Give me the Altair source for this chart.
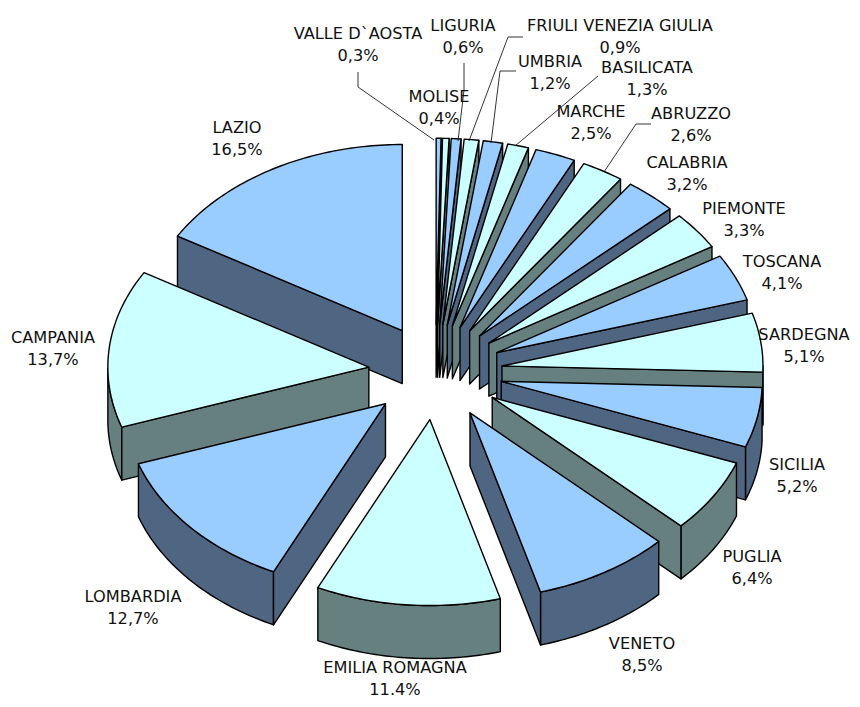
import math
import altair as alt
import pandas as pd

regions = ["VALLE D`AOSTA", "MOLISE", "LIGURIA", "FRIULI VENEZIA GIULIA", "UMBRIA", "BASILICATA",
           "MARCHE", "ABRUZZO", "CALABRIA", "PIEMONTE", "TOSCANA", "SARDEGNA", "SICILIA", "PUGLIA",
           "VENETO", "EMILIA ROMAGNA", "LOMBARDIA", "CAMPANIA", "LAZIO"]
shares = [0.3, 0.4, 0.6, 0.9, 1.2, 1.3, 2.5, 2.6, 3.2, 3.3, 4.1, 5.1, 5.2, 6.4, 8.5, 11.4, 12.7, 13.7, 16.5]
share_labels = ["0,3%", "0,4%", "0,6%", "0,9%", "1,2%", "1,3%", "2,5%", "2,6%", "3,2%", "3,3%", "4,1%",
                "5,1%", "5,2%", "6,4%", "8,5%", "11.4%", "12,7%", "13,7%", "16,5%"]

# layout (page pixels)
label_x = [358, 439, 463, 620, 550, 647, 591, 691, 687, 744, 782, 804, 797, 752, 642, 395, 133, 53, 237]
label_y = [34, 97, 26, 26, 62, 68, 112, 114, 163, 209, 262, 335, 465, 557, 644, 668, 597, 338, 128]
leaders = [
    [(358, 72), (358, 87), (434, 140)],
    [(464, 63), (464, 90), (458, 141)],
    [(523, 37), (508, 37), (469, 141)],
    [(516, 71), (500, 71), (491, 143)],
    [(598, 76), (515, 146)],
    [(651, 124), (636, 124), (604, 172)],
]
CX, CY, A, B, DEPTH, EXPLODE = 435.5, 372, 261, 186, 53, 67
TOP = ["#99CCFF", "#CCFFFF"]
SIDE = ["#4F6682", "#668080"]

total = sum(shares)
slices, cum = [], 0.0
for i, s in enumerate(shares):
    t0 = cum / total * 2 * math.pi
    cum += s
    t1 = cum / total * 2 * math.pi
    slices.append((i, t0, t1, (t0 + t1) / 2))


def feature(kind, coords, fill=None):
    if kind == "Polygon":
        coords = [list(map(list, coords)) + [list(coords[0])]]
    else:
        coords = list(map(list, coords))
    return {"type": "Feature", "geometry": {"type": kind, "coordinates": coords},
            "properties": {"fill": fill}}


faces = []
for i, t0, t1, m in sorted(slices, key=lambda r: -math.cos(r[3])):
    tx = CX + EXPLODE * math.sin(m)
    ty = CY - EXPLODE * B / A * math.cos(m)
    n = max(4, int((t1 - t0) * 60))
    arc = [(tx + A * math.sin(t0 + (t1 - t0) * k / n), ty - B * math.cos(t0 + (t1 - t0) * k / n))
           for k in range(n + 1)]
    side, top = SIDE[i % 2], TOP[i % 2]
    drop = lambda pts: [(x, y + DEPTH) for x, y in pts]
    # lower-half rim wall
    run = []
    for p, q in zip(arc, arc[1:]):
        if q[0] < p[0] - 1e-9:
            run += [p] if not run else []
            run.append(q)
    if run:
        faces.append(feature("Polygon", run + drop(run)[::-1], side))
    # cut faces, only the ones turned to the viewer
    if arc[0][0] < tx - 1e-6:
        faces.append(feature("Polygon", [(tx, ty), arc[0], (arc[0][0], arc[0][1] + DEPTH), (tx, ty + DEPTH)], side))
    if arc[-1][0] > tx + 1e-6:
        faces.append(feature("Polygon", [(tx, ty), arc[-1], (arc[-1][0], arc[-1][1] + DEPTH), (tx, ty + DEPTH)], side))
    faces.append(feature("Polygon", [(tx, ty)] + arc, top))

leader_features = [feature("LineString", l) for l in leaders]
proj = dict(type="identity", scale=1, translate=[-8, -8])

pie = alt.Chart(alt.Data(values=faces)).mark_geoshape(stroke="black", strokeWidth=1.4, strokeJoin="round").encode(
    fill=alt.Fill("properties.fill:N", scale=None)).project(**proj)
lines = alt.Chart(alt.Data(values=leader_features)).mark_geoshape(filled=False, stroke="black", strokeWidth=0.8).project(**proj)

df = pd.DataFrame({"name": regions, "share": share_labels,
                   "x": [v - 8 for v in label_x], "y": [v - 8 for v in label_y]})
df["y2"] = df["y"] + 22
style = dict(fontSize=16.2, font="DejaVu Sans", color="#111111", align="center", baseline="middle")
names = alt.Chart(df).mark_text(**style).encode(x=alt.X("x:Q", scale=None), y=alt.Y("y:Q", scale=None), text="name:N")
vals = alt.Chart(df).mark_text(**style).encode(x=alt.X("x:Q", scale=None), y=alt.Y("y2:Q", scale=None), text="share:N")

chart = alt.layer(pie, lines, names, vals).properties(
    width=844, height=691, padding=0, autosize=alt.AutoSizeParams(type="none")
).configure_view(stroke=None)
chart.save("out.html", embed_options={"renderer": "svg", "actions": False})
